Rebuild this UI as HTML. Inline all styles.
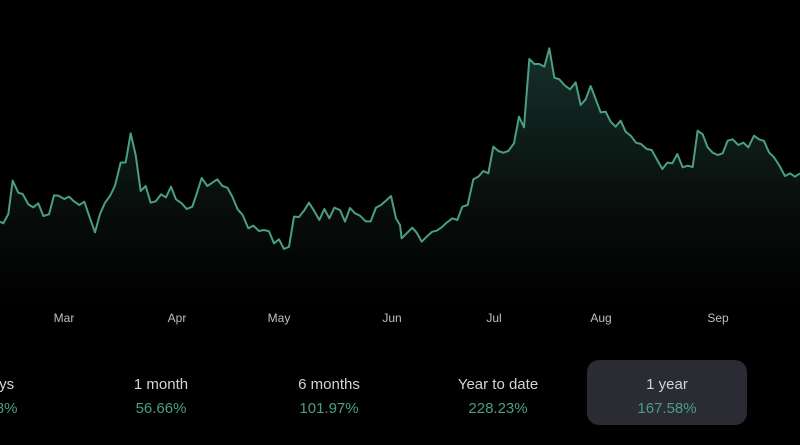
<!DOCTYPE html>
<html><head><style>
html,body{margin:0;padding:0;background:#000;width:800px;height:445px;overflow:hidden;font-family:"Liberation Sans",sans-serif}
.lab{position:absolute;top:311px;font-size:12px;color:#bfbfbf;transform:translateX(-50%)}
.col{position:absolute;top:374px;width:160px;margin-left:-80px;text-align:center}
.t{font-size:15px;color:#d4d4d4;line-height:22px}
.v{font-size:15px;color:#4a9e85;line-height:26px}
.box{position:absolute;left:587px;top:360px;width:160px;height:65px;background:#2a2b33;border-radius:12px}
</style></head><body>
<svg width="800" height="445" style="position:absolute;left:0;top:0">
<defs>
<linearGradient id="g2" x1="0" y1="0" x2="0" y2="1"><stop offset="0" stop-color="#16302a"/><stop offset="0.6" stop-color="#080e0c"/><stop offset="1" stop-color="#000"/></linearGradient></defs>
<g transform="translate(0,40) scale(0.33333)">
<path fill="url(#g2)" d="M0,545 L10,550 25,522 38,422 55,458 68,462 85,493 100,502 115,490 130,528 147,523 162,466 175,467 193,477 207,470 222,484 238,495 253,485 270,535 285,577 300,522 315,488 330,468 345,437 362,368 377,367 392,280 407,345 422,453 437,438 452,488 467,484 483,463 498,472 513,440 528,478 545,490 560,507 577,500 592,455 605,414 622,438 637,428 652,418 667,438 682,443 697,470 713,508 728,525 745,565 760,557 777,573 792,570 807,574 822,610 837,598 852,627 867,620 882,530 897,531 912,512 927,488 942,512 958,540 973,507 988,535 1003,503 1020,510 1035,545 1050,504 1065,520 1080,527 1097,544 1112,544 1128,503 1143,495 1158,482 1173,468 1188,535 1200,555 1205,595 1220,580 1237,563 1250,578 1265,605 1280,590 1297,575 1310,572 1325,562 1340,548 1357,535 1372,540 1387,500 1403,495 1420,418 1435,410 1450,393 1465,400 1480,320 1495,333 1510,338 1525,333 1542,310 1557,230 1572,262 1588,57 1603,72 1618,72 1633,80 1648,25 1663,113 1678,118 1693,135 1710,148 1727,127 1742,195 1757,178 1772,138 1787,177 1802,217 1817,215 1832,245 1847,260 1862,242 1877,275 1893,288 1908,308 1923,312 1940,327 1955,330 1970,357 1987,387 2002,368 2017,370 2032,342 2048,382 2063,377 2078,381 2093,272 2108,283 2123,322 2138,338 2153,345 2168,340 2183,302 2198,298 2215,315 2230,308 2245,322 2262,287 2277,298 2292,303 2307,337 2322,352 2337,375 2355,408 2370,400 2385,410 2400,400 L2400,800 L0,800 Z"/>
</g>
<g transform="translate(0,40) scale(0.33333)">
<polyline fill="none" stroke="#4a9e85" stroke-width="6" stroke-linejoin="round" points="0,545 10,550 25,522 38,422 55,458 68,462 85,493 100,502 115,490 130,528 147,523 162,466 175,467 193,477 207,470 222,484 238,495 253,485 270,535 285,577 300,522 315,488 330,468 345,437 362,368 377,367 392,280 407,345 422,453 437,438 452,488 467,484 483,463 498,472 513,440 528,478 545,490 560,507 577,500 592,455 605,414 622,438 637,428 652,418 667,438 682,443 697,470 713,508 728,525 745,565 760,557 777,573 792,570 807,574 822,610 837,598 852,627 867,620 882,530 897,531 912,512 927,488 942,512 958,540 973,507 988,535 1003,503 1020,510 1035,545 1050,504 1065,520 1080,527 1097,544 1112,544 1128,503 1143,495 1158,482 1173,468 1188,535 1200,555 1205,595 1220,580 1237,563 1250,578 1265,605 1280,590 1297,575 1310,572 1325,562 1340,548 1357,535 1372,540 1387,500 1403,495 1420,418 1435,410 1450,393 1465,400 1480,320 1495,333 1510,338 1525,333 1542,310 1557,230 1572,262 1588,57 1603,72 1618,72 1633,80 1648,25 1663,113 1678,118 1693,135 1710,148 1727,127 1742,195 1757,178 1772,138 1787,177 1802,217 1817,215 1832,245 1847,260 1862,242 1877,275 1893,288 1908,308 1923,312 1940,327 1955,330 1970,357 1987,387 2002,368 2017,370 2032,342 2048,382 2063,377 2078,381 2093,272 2108,283 2123,322 2138,338 2153,345 2168,340 2183,302 2198,298 2215,315 2230,308 2245,322 2262,287 2277,298 2292,303 2307,337 2322,352 2337,375 2355,408 2370,400 2385,410 2400,400"/>
</g>
</svg>
<div class="lab" style="left:64px">Mar</div>
<div class="lab" style="left:177px">Apr</div>
<div class="lab" style="left:279px">May</div>
<div class="lab" style="left:392px">Jun</div>
<div class="lab" style="left:494px">Jul</div>
<div class="lab" style="left:601px">Aug</div>
<div class="lab" style="left:718px">Sep</div>
<div class="box"></div>
<div class="col" style="left:-8px"><div class="t">7 days</div><div class="v">16.18%</div></div>
<div class="col" style="left:161px"><div class="t">1 month</div><div class="v">56.66%</div></div>
<div class="col" style="left:329px"><div class="t">6 months</div><div class="v">101.97%</div></div>
<div class="col" style="left:498px"><div class="t">Year to date</div><div class="v">228.23%</div></div>
<div class="col" style="left:667px"><div class="t">1 year</div><div class="v">167.58%</div></div>
</body></html>
